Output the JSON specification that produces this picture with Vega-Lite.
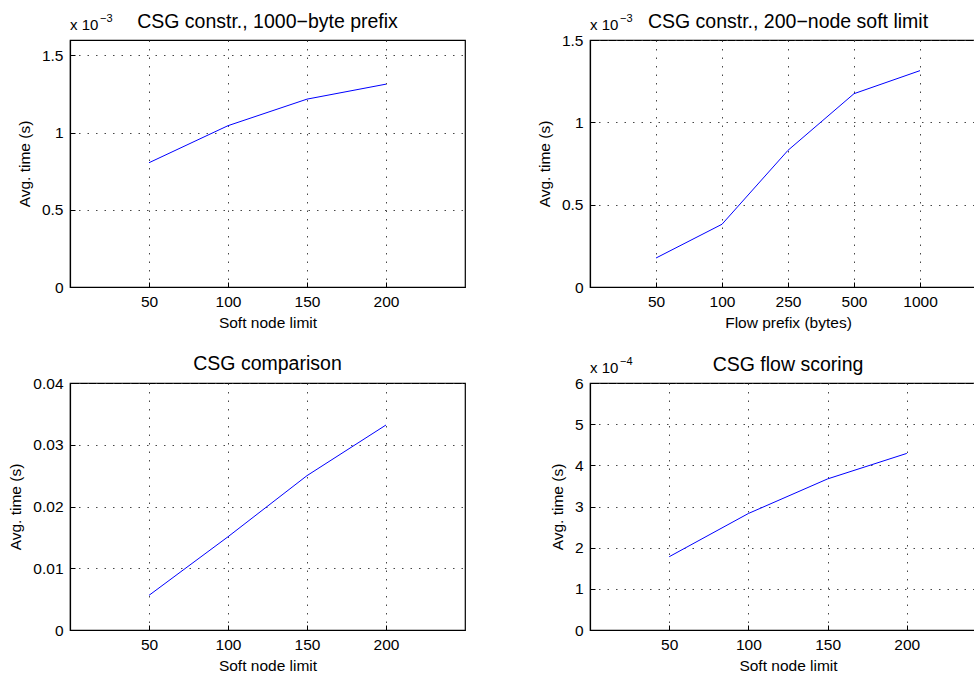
{
  "$schema": "https://vega.github.io/schema/vega-lite/v6.json",
  "background": "white",
  "padding": {"left": 8, "top": 10, "right": 0, "bottom": 0},
  "config": {
    "font": "Liberation Sans",
    "view": {"stroke": "black", "strokeWidth": 1.2},
    "axis": {
      "domainColor": "black", "domainWidth": 1.2,
      "tickColor": "black", "tickSize": -5,
      "labelColor": "black", "labelFontSize": 15.5, "labelFlush": false, "labelOverlap": false,
      "titleColor": "black", "titleFontSize": 15.5, "titleFontWeight": "normal",
      "gridColor": "#333333", "gridDash": [1.5, 7], "gridOpacity": 0.9, "gridWidth": 1
    },
    "axisX": {"labelPadding": 12, "titlePadding": 5.5},
    "axisY": {"labelPadding": 12, "titlePadding": 9},
    "title": {"fontSize": 19.5, "fontWeight": "normal", "color": "black", "anchor": "middle", "frame": "group"},
    "text": {"font": "Liberation Sans", "color": "black"}
  },
  "datasets": {
    "p1": [
      {"limit": 50, "time": 0.000805},
      {"limit": 100, "time": 0.001045},
      {"limit": 150, "time": 0.001217},
      {"limit": 200, "time": 0.001314}
    ],
    "p2": [
      {"pos": 1, "prefix": 50, "time": 0.000176},
      {"pos": 2, "prefix": 100, "time": 0.000381},
      {"pos": 3, "prefix": 250, "time": 0.000830},
      {"pos": 4, "prefix": 500, "time": 0.001174},
      {"pos": 5, "prefix": 1000, "time": 0.001314}
    ],
    "p3": [
      {"limit": 50, "time": 0.00561},
      {"limit": 100, "time": 0.0151},
      {"limit": 150, "time": 0.0250},
      {"limit": 200, "time": 0.0332}
    ],
    "p4": [
      {"limit": 50, "time": 0.000178},
      {"limit": 100, "time": 0.000283},
      {"limit": 150, "time": 0.000367},
      {"limit": 200, "time": 0.000429}
    ]
  },
  "columns": 2,
  "spacing": {"row": 96, "column": 125},
  "bounds": "flush",
  "concat": [
    {
      "width": 395, "height": 247,
      "title": {"text": "CSG constr., 1000−byte prefix", "offset": -19},
      "layer": [
        {
          "data": {"name": "p1"},
          "mark": {"type": "line", "color": "#0000ff", "strokeWidth": 1},
          "encoding": {
            "x": {"field": "limit", "type": "quantitative", "scale": {"domain": [0, 250], "nice": false}, "axis": {"values": [50, 100, 150, 200], "title": "Soft node limit", "grid": true}},
            "y": {"field": "time", "type": "quantitative", "scale": {"domain": [0, 0.0016], "nice": false}, "axis": {"values": [0, 0.0005, 0.001, 0.0015], "labelExpr": "format(datum.value*1000, '.2~f')", "title": "Avg. time (s)"}}
          }
        },
        {
          "data": {"values": [{"label": "x 10"}]},
          "mark": {"type": "text", "align": "left", "baseline": "alphabetic", "fontSize": 15, "dy": -10},
          "encoding": {"x": {"datum": 0}, "y": {"datum": 0.0016}, "text": {"field": "label"}}
        },
        {
          "data": {"values": [{"label": "−3"}]},
          "mark": {"type": "text", "align": "left", "baseline": "alphabetic", "fontSize": 11, "dx": 30, "dy": -18},
          "encoding": {"x": {"datum": 0}, "y": {"datum": 0.0016}, "text": {"field": "label"}}
        }
      ]
    },
    {
      "width": 396, "height": 247,
      "title": {"text": "CSG constr., 200−node soft limit", "offset": -19},
      "layer": [
        {
          "data": {"name": "p2"},
          "mark": {"type": "line", "color": "#0000ff", "strokeWidth": 1},
          "encoding": {
            "x": {"field": "pos", "type": "quantitative", "scale": {"domain": [0, 6], "nice": false}, "axis": {"values": [1, 2, 3, 4, 5], "labelExpr": "['', '50', '100', '250', '500', '1000'][datum.value]", "title": "Flow prefix (bytes)"}},
            "y": {"field": "time", "type": "quantitative", "scale": {"domain": [0, 0.0015], "nice": false}, "axis": {"values": [0, 0.0005, 0.001, 0.0015], "labelExpr": "format(datum.value*1000, '.2~f')", "title": "Avg. time (s)"}}
          }
        },
        {
          "data": {"values": [{"label": "x 10"}]},
          "mark": {"type": "text", "align": "left", "baseline": "alphabetic", "fontSize": 15, "dy": -10},
          "encoding": {"x": {"datum": 0}, "y": {"datum": 0.0015}, "text": {"field": "label"}}
        },
        {
          "data": {"values": [{"label": "−3"}]},
          "mark": {"type": "text", "align": "left", "baseline": "alphabetic", "fontSize": 11, "dx": 30, "dy": -18},
          "encoding": {"x": {"datum": 0}, "y": {"datum": 0.0015}, "text": {"field": "label"}}
        }
      ]
    },
    {
      "width": 395, "height": 247,
      "title": {"text": "CSG comparison", "offset": 2},
      "data": {"name": "p3"},
      "mark": {"type": "line", "color": "#0000ff", "strokeWidth": 1},
      "encoding": {
        "x": {"field": "limit", "type": "quantitative", "scale": {"domain": [0, 250], "nice": false}, "axis": {"values": [50, 100, 150, 200], "title": "Soft node limit"}},
        "y": {"field": "time", "type": "quantitative", "scale": {"domain": [0, 0.04], "nice": false}, "axis": {"values": [0, 0.01, 0.02, 0.03, 0.04], "labelExpr": "format(datum.value, '.2~f')", "title": "Avg. time (s)"}}
      }
    },
    {
      "width": 396, "height": 247,
      "title": {"text": "CSG flow scoring", "offset": -19},
      "layer": [
        {
          "data": {"name": "p4"},
          "mark": {"type": "line", "color": "#0000ff", "strokeWidth": 1},
          "encoding": {
            "x": {"field": "limit", "type": "quantitative", "scale": {"domain": [0, 250], "nice": false}, "axis": {"values": [50, 100, 150, 200], "title": "Soft node limit"}},
            "y": {"field": "time", "type": "quantitative", "scale": {"domain": [0, 0.0006], "nice": false}, "axis": {"values": [0, 0.0001, 0.0002, 0.0003, 0.0004, 0.0005, 0.0006], "labelExpr": "format(datum.value*10000, '.2~f')", "title": "Avg. time (s)"}}
          }
        },
        {
          "data": {"values": [{"label": "x 10"}]},
          "mark": {"type": "text", "align": "left", "baseline": "alphabetic", "fontSize": 15, "dy": -10},
          "encoding": {"x": {"datum": 0}, "y": {"datum": 0.0006}, "text": {"field": "label"}}
        },
        {
          "data": {"values": [{"label": "−4"}]},
          "mark": {"type": "text", "align": "left", "baseline": "alphabetic", "fontSize": 11, "dx": 30, "dy": -18},
          "encoding": {"x": {"datum": 0}, "y": {"datum": 0.0006}, "text": {"field": "label"}}
        }
      ]
    }
  ]
}
